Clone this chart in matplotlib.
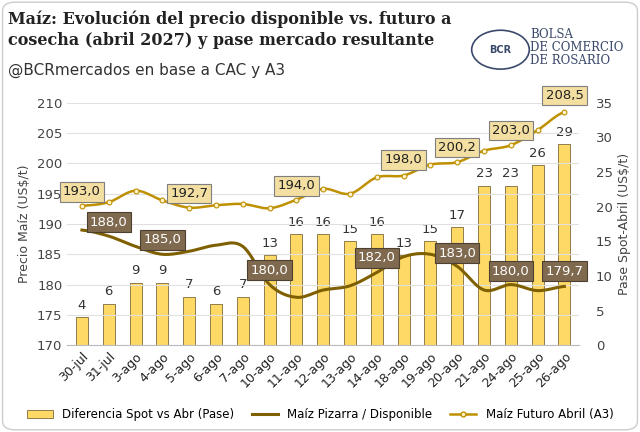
import matplotlib
matplotlib.use("Agg")
import matplotlib.pyplot as plt
import numpy as np
from matplotlib.patches import FancyBboxPatch, Circle, Patch
from matplotlib.lines import Line2D

fechas = ["30-jul","31-jul","3-ago","4-ago","5-ago","6-ago","7-ago","10-ago","11-ago","12-ago",
          "13-ago","14-ago","18-ago","19-ago","20-ago","21-ago","24-ago","25-ago","26-ago"]
pase = [4,6,9,9,7,6,7,13,16,16,15,16,13,15,17,23,23,26,29]
futuro = [193.0,193.6,195.5,193.9,192.7,193.1,193.3,192.6,194.0,195.8,195.0,197.7,198.0,199.8,200.2,202.1,203.0,205.5,208.5]
pizarra = [189.0,188.0,186.3,185.0,185.5,186.5,186.3,180.0,177.9,179.1,179.8,182.0,184.6,185.0,183.0,179.1,180.0,179.0,179.7]

fut_lab_idx = [0,4,8,12,14,16,18]
fut_lab_y = [195.3,195.0,196.3,200.6,202.6,205.4,211.2]
piz_lab_idx = [1,3,7,11,14,16,18]
piz_lab_y = [190.3,187.4,182.4,184.4,185.2,182.2,182.2]

def smooth(y, n=12):
    y = np.asarray(y, float)
    p = np.concatenate([[y[0]], y, [y[-1]]])
    xs, ys = [], []
    for i in range(len(y)-1):
        p0, p1, p2, p3 = p[i], p[i+1], p[i+2], p[i+3]
        t = np.linspace(0, 1, n, endpoint=False)
        v = 0.5*((2*p1) + (-p0+p2)*t + (2*p0-5*p1+4*p2-p3)*t**2 + (-p0+3*p1-3*p2+p3)*t**3)
        xs.append(i+t); ys.append(v)
    xs.append([len(y)-1]); ys.append([y[-1]])
    return np.concatenate(xs), np.concatenate(ys)

fig = plt.figure(figsize=(6.4, 4.32), dpi=100)
fig.patch.set_facecolor("white")
fig.patches.append(FancyBboxPatch((0.004,0.005),0.992,0.99, boxstyle="round,pad=0,rounding_size=0.02",
                   transform=fig.transFigure, fill=False, edgecolor="#cccccc", lw=1))

ax = fig.add_axes([0.105, 0.201, 0.80, 0.561])
ax2 = ax.twinx()
x = np.arange(len(fechas))

ax2.bar(x, pase, width=0.45, color="#FFD966", edgecolor="#7F6A3A", lw=0.6, zorder=1)
for i, v in enumerate(pase):
    ax2.text(i, v+0.8, str(v), ha="center", va="bottom", fontsize=9.5, color="#333333")
ax2.set_ylim(0, 35)
ax2.set_yticks(range(0, 36, 5))
ax2.set_ylabel("Pase Spot-Abril (US$/t)", fontsize=9, color="#444444")

ax.set_zorder(ax2.get_zorder()+1); ax.patch.set_visible(False)
sx, sy = smooth(pizarra)
ax.plot(sx, sy, color="#7F6000", lw=2.2, zorder=3)
fx, fy = smooth(futuro)
ax.plot(fx, fy, color="#BF9000", lw=1.8, zorder=4)
ax.plot(x, futuro, "o", ms=3.5, mfc="#FFF2CC", mec="#BF9000", mew=0.8, zorder=5)

for i, yv in zip(fut_lab_idx, fut_lab_y):
    ax.text(i, yv, f"{futuro[i]:.1f}".replace(".", ","), ha="center", va="center", fontsize=9.5, color="#222222", zorder=6,
            bbox=dict(boxstyle="square,pad=0.25", fc="#F3DFA2", ec="#7f7f7f", lw=0.8))
for i, yv in zip(piz_lab_idx, piz_lab_y):
    ax.text(i, yv, f"{pizarra[i]:.1f}".replace(".", ","), ha="center", va="center", fontsize=9.5, color="white", zorder=6,
            bbox=dict(boxstyle="square,pad=0.25", fc="#7F6A4F", ec="#4d4030", lw=0.8))

ax.set_ylim(170, 210)
ax.set_yticks(range(170, 211, 5))
ax.set_xlim(-0.55, len(fechas)-0.45)
ax.set_xticks(x)
ax.set_xticklabels(fechas, rotation=45, ha="right", rotation_mode="anchor", fontsize=9)
ax.set_ylabel("Precio Maíz (US$/t)", fontsize=9, color="#444444")
ax.grid(axis="y", color="#e0e0e0", lw=0.8)
ax.set_axisbelow(True)
for a in (ax, ax2):
    for s in a.spines.values():
        s.set_visible(False)
    a.tick_params(length=0, labelsize=9.5, colors="#444444")
ax2.tick_params(axis="y", pad=12)
ax.tick_params(axis="x", labelsize=9, colors="#222222")
ax.spines["bottom"].set_visible(True); ax.spines["bottom"].set_color("#bbbbbb")

handles = [Patch(fc="#FFD966", ec="#7F6A3A", lw=0.6),
           Line2D([0],[0], color="#7F6000", lw=2.2),
           Line2D([0],[0], color="#BF9000", lw=1.8, marker="o", ms=3.5, mfc="#FFF2CC", mec="#BF9000")]
fig.legend(handles, ["Diferencia Spot vs Abr (Pase)", "Maíz Pizarra / Disponible", "Maíz Futuro Abril (A3)"],
           loc="lower center", bbox_to_anchor=(0.5, 0.0), ncol=3, frameon=False, fontsize=8.5,
           handlelength=2.2, columnspacing=1.5)

fig.text(0.012, 0.975, "Maíz: Evolución del precio disponible vs. futuro a\ncosecha (abril 2027) y pase mercado resultante",
         ha="left", va="top", fontsize=11.5, fontweight="bold", family="DejaVu Serif", color="#222222", linespacing=1.3)
fig.text(0.012, 0.838, "@BCRmercados en base a CAC y A3", ha="left", va="center", fontsize=11, color="#333333")

fig.patches.append(Circle((0.782, 0.885), 0.045, transform=fig.transFigure, fill=False, ec="#3b4a6b", lw=1.2))
fig.text(0.782, 0.885, "BCR", ha="center", va="center", fontsize=7, color="#3b4a6b", fontweight="bold")
fig.text(0.828, 0.89, "BOLSA\nDE COMERCIO\nDE ROSARIO", ha="left", va="center", fontsize=8.5,
         family="DejaVu Serif", color="#3b4a6b", linespacing=1.0)

fig.savefig("out.png", dpi=100)
